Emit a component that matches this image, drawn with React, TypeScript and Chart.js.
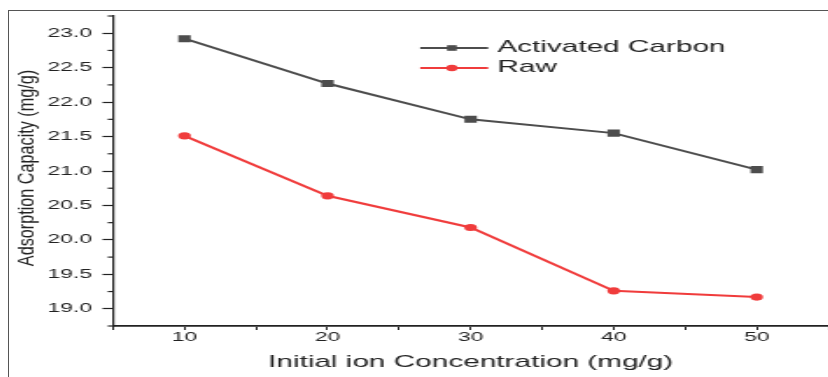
import React, { useEffect, useRef } from "react";
import { Chart, registerables } from "chart.js";

Chart.register(...registerables);

// ---- data ----
const concentrations = [10, 20, 30, 40, 50];
const activatedCarbon = [22.92, 22.27, 21.75, 21.55, 21.02];
const raw = [21.51, 20.64, 20.18, 19.26, 19.17];
const seriesNames = ["Activated Carbon", "Raw"];
const seriesColors = ["#4d4d4d", "#f03c3c"];
const xTitle = "Initial ion Concentration (mg/g)";
const yTitle = "Adsorption Capacity (mg/g)";
const xRange = [5, 55];
const yRange = [18.75, 23.25];

const FONT = '"Liberation Sans", Arial, sans-serif';
const SX = 1.75; // horizontal stretch of the original picture
const W = 473; // internal canvas width (point overflow padding of 5 on the right)
const H = 366;
const CSS_W = W * SX;
const CSS_H = H;

const isHalf = (v: number) => Math.abs(v * 2 - Math.round(v * 2)) < 1e-6;

const decor = {
  id: "decor",
  afterDraw(chart: any) {
    const ctx = chart.ctx;
    const ys = chart.scales.y;
    const ca = chart.chartArea;
    ctx.save();
    // minor y ticks
    ctx.strokeStyle = "#222";
    ctx.lineWidth = 1.2;
    for (let v = yRange[0]; v <= yRange[1] + 1e-9; v += 0.5) {
      const py = ys.getPixelForValue(v);
      ctx.beginPath();
      ctx.moveTo(ca.left - 3, py);
      ctx.lineTo(ca.left, py);
      ctx.stroke();
    }
    // legend
    chart.data.datasets.forEach((ds: any, i: number) => {
      const yy = 37 + i * 20;
      const x0 = 234.9;
      const x1 = 273.7;
      const mx = 253;
      ctx.strokeStyle = ds.borderColor;
      ctx.lineWidth = 2;
      ctx.beginPath();
      ctx.moveTo(x0, yy);
      ctx.lineTo(x1, yy);
      ctx.stroke();
      ctx.fillStyle = ds.borderColor;
      if (ds.pointStyle === "rect") {
        ctx.fillRect(mx - 2.8, yy - 2.8, 5.6, 5.6);
      } else {
        ctx.beginPath();
        ctx.arc(mx, yy, 3.2, 0, Math.PI * 2);
        ctx.fill();
      }
      ctx.fillStyle = "#222";
      ctx.font = `17px ${FONT}`;
      ctx.textAlign = "left";
      ctx.textBaseline = "middle";
      ctx.fillText(ds.label, 278.9, yy - 1);
    });
    // y title
    ctx.translate(10.9, 157);
    ctx.rotate(-Math.PI / 2);
    ctx.scale(1.35, 1);
    ctx.font = `12px ${FONT}`;
    ctx.textAlign = "center";
    ctx.textBaseline = "middle";
    ctx.fillStyle = "#222";
    ctx.fillText(yTitle, 0, 0);
    ctx.restore();
  },
};

export default function App() {
  const ref = useRef<HTMLCanvasElement | null>(null);

  useEffect(() => {
    const canvas = ref.current;
    if (!canvas) return;
    const chart = new Chart(canvas, {
      type: "line",
      data: {
        datasets: [
          {
            label: seriesNames[0],
            data: concentrations.map((x, i) => ({ x, y: activatedCarbon[i] })),
            borderColor: seriesColors[0],
            backgroundColor: seriesColors[0],
            borderWidth: 2,
            pointStyle: "rect",
            pointRadius: 5,
            pointBorderWidth: 0,
            tension: 0,
          },
          {
            label: seriesNames[1],
            data: concentrations.map((x, i) => ({ x, y: raw[i] })),
            borderColor: seriesColors[1],
            backgroundColor: seriesColors[1],
            borderWidth: 2,
            pointStyle: "circle",
            pointRadius: 3.6,
            pointBorderWidth: 0,
            tension: 0,
          },
        ],
      },
      options: {
        responsive: false,
        animation: false,
        devicePixelRatio: 1,
        layout: { padding: { top: 4, right: 0, bottom: 0, left: 0 } },
        plugins: { legend: { display: false }, tooltip: { enabled: false } },
        scales: {
          x: {
            type: "linear",
            min: xRange[0],
            max: xRange[1],
            afterFit: (s: any) => {
              s.height = 51;
              s.paddingLeft = 0;
              s.paddingRight = 0;
            },
            ticks: {
              stepSize: 5,
              autoSkip: false,
              maxRotation: 0,
              padding: 0.5,
              color: "#222",
              font: { family: FONT, size: 13, lineHeight: 1 },
              callback: (v: any) => (Number(v) % 10 === 0 ? String(v) : ""),
            },
            grid: {
              display: true,
              drawOnChartArea: false,
              drawTicks: true,
              tickLength: 4,
              tickColor: "#222",
              tickWidth: 1,
            },
            border: { display: true, color: "#222", width: 1.8 },
            title: {
              display: true,
              text: xTitle,
              color: "#222",
              font: { family: FONT, size: 17 },
              padding: { top: 0, bottom: 4 },
            },
          },
          y: {
            type: "linear",
            min: yRange[0],
            max: yRange[1],
            afterFit: (s: any) => {
              s.width = 59.4;
              s.paddingTop = 0;
              s.paddingBottom = 0;
            },
            ticks: {
              stepSize: 0.25,
              autoSkip: false,
              padding: 6,
              color: "#222",
              font: { family: FONT, size: 13 },
              callback: (v: any) => (isHalf(Number(v)) ? Number(v).toFixed(1) : ""),
            },
            grid: {
              display: true,
              drawOnChartArea: false,
              drawTicks: true,
              tickLength: 6,
              tickWidth: 1.2,
              tickColor: (c: any) =>
                c.tick && isHalf(c.tick.value) ? "#222" : "rgba(0,0,0,0)",
            },
            border: { display: true, color: "#222", width: 1.2 },
          },
        },
      },
      plugins: [decor],
    } as any);
    return () => chart.destroy();
  }, []);

  return (
    <div
      style={{
        position: "fixed",
        left: 8,
        top: 10,
        width: 820,
        height: 367,
        overflow: "hidden",
        boxSizing: "border-box",
        borderTop: "1px solid #555",
        borderLeft: "1px solid #555",
        background: "#fff",
      }}
    >
      <canvas
        ref={ref}
        width={W}
        height={H}
        style={{ display: "block", width: CSS_W + "px", height: CSS_H + "px" }}
      />
    </div>
  );
}
